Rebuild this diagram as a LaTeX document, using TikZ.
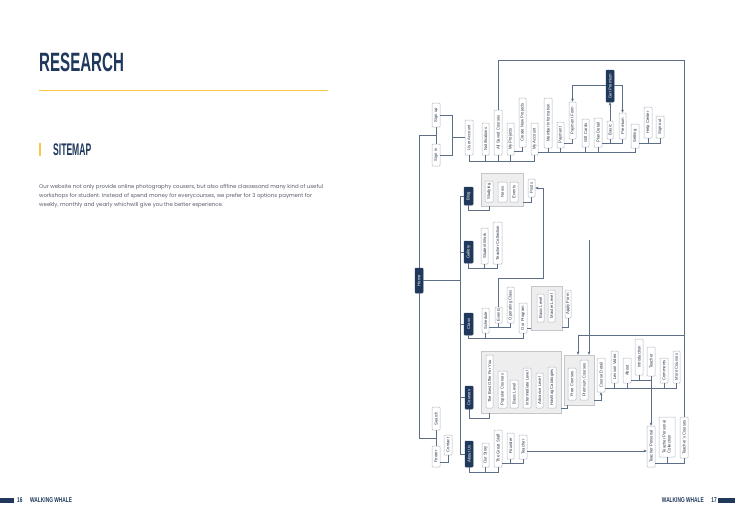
\documentclass[tikz,border=0pt]{standalone}
\usepackage{fontspec}
\setmainfont{Liberation Sans}
\newfontfamily\parafont{Poppins}
\usetikzlibrary{arrows.meta,calc}
\definecolor{navy}{RGB}{31,56,92}
\definecolor{gold}{RGB}{247,200,68}
\definecolor{lnc}{RGB}{93,110,135}
\definecolor{bxd}{RGB}{180,186,196}
\definecolor{grpf}{RGB}{238,238,238}
\definecolor{grpd}{RGB}{196,198,202}
\definecolor{txt}{RGB}{45,55,72}
\definecolor{para}{RGB}{90,95,108}
\tikzset{
  box/.style={draw=bxd,fill=white,line width=0.5pt,rounded corners=0.8pt,inner sep=0pt,text=txt,font=\fontsize{4.2}{5}\selectfont},
  dark/.style={draw=navy,fill=navy,line width=0.5pt,rounded corners=0.8pt,inner sep=0pt,text=white,font=\fontsize{4.2}{5}\selectfont},
  grp/.style={draw=grpd,fill=grpf,line width=0.5pt,inner sep=0pt},
  ln/.style={draw=lnc,line width=0.6pt},
  arr/.style={draw=lnc,line width=0.6pt,-{Stealth[length=3.2pt,width=2.8pt]}},
  ptext/.style={anchor=base west,inner sep=0,text=para,font=\parafont\fontsize{5.42}{6}\selectfont},
}
\newcommand\bx[7][box]{\node[#1,minimum width={#5-#3},minimum height={#6-#4}] (#2) at ({(#3+#5)/2},{(#4+#6)/2}) {\rotatebox{90}{#7}};}
\newcommand\gbx[5]{\node[grp,minimum width={#4-#2},minimum height={#5-#3}] (#1) at ({(#2+#4)/2},{(#3+#5)/2}) {};}
\begin{document}
\begin{tikzpicture}[x=1pt,y=-1pt]
\useasboundingbox (0,0) rectangle (735,520);
\fill[white] (0,0) rectangle (735,520);
% ---------- left page ----------
\node[anchor=base west,inner sep=0,text=navy] (title) at (39,71) {\fontsize{26.5}{26.5}\selectfont\bfseries\scalebox{0.57}[1]{RESEARCH}};
\draw[gold,line width=0.8pt] (39,90) -- (328,90);
\fill[gold] (38.5,143) rectangle (41,156);
\node[anchor=base west,inner sep=0,text=navy] (sitemap) at (53,155.5) {\fontsize{16.8}{16.8}\selectfont\bfseries\scalebox{0.51}[1]{SITEMAP}};
\node[ptext] (p1) at (39,188) {Our website not only provide online photography cousers, but also offline classesand many kind of useful};
\node[ptext] (p2) at (39,197) {workshops for student. Instead of spend money for everycourses, we prefer for 3 options payment for};
\node[ptext] (p3) at (39,206) {weekly, monthly and yearly whichwill give you the better experience.};
% footer
\fill[navy] (0,497.5) rectangle (14,502.5);
\node[anchor=base west,inner sep=0,text=navy] (pg16) at (17,502.5) {\fontsize{7}{7}\selectfont\bfseries\scalebox{0.69}[1]{16}};
\node[anchor=base west,inner sep=0,text=navy] (ww1) at (30,502.5) {\fontsize{7}{7}\selectfont\bfseries\scalebox{0.69}[1]{WALKING WHALE}};
\fill[navy] (718,497.5) rectangle (735,502.5);
\node[anchor=base east,inner sep=0,text=navy] (pg17) at (717,502.5) {\fontsize{7}{7}\selectfont\bfseries\scalebox{0.69}[1]{17}};
\node[anchor=base east,inner sep=0,text=navy] (ww2) at (704,502.5) {\fontsize{7}{7}\selectfont\bfseries\scalebox{0.69}[1]{WALKING WHALE}};
% ---------- groups ----------
\gbx{bloggrp}{481}{173}{523}{206}
\gbx{levelgrp}{531}{286}{562}{330}
\gbx{coursegrp}{481}{351}{561}{413}
\gbx{freegrp}{564}{355}{594}{405}
% ---------- boxes ----------
\bx[dark]{home}{415}{268}{423}{293}{Home}
\bx{signup}{432}{103}{440}{127}{Sign up}
\bx{signin}{432}{144}{440}{166}{Sign in}
\bx{ua}{465}{120}{473}{155}{User Account}
\bx{notif}{482}{123}{489}{155}{Notifications}
\bx{asc}{494}{110}{502}{155}{All Saved Courses}
\bx{myproj}{507}{123}{514}{155}{My Projects}
\bx{cnp}{519}{98}{526}{147}{Create New Projects}
\bx{macc}{531}{123}{538}{155}{My Account}
\bx{mi}{544}{98}{552}{148}{Member Information}
\bx{pay}{557}{122}{564}{148}{Payment}
\bx{pform}{569}{102}{576}{139}{Payment Form}
\bx{gift}{582}{119}{589}{147}{Gift Cards}
\bx{plan}{594}{118}{602}{147}{Plan Detail}
\bx{basic}{607}{121}{613}{139}{Basic}
\bx{premium}{619}{113}{626}{139}{Premium}
\bx[dark]{getprem}{606}{70}{614}{102}{Get Premium}
\bx{setting}{631}{124}{639}{148}{Setting}
\bx{help}{644}{107}{652}{138}{Help Center}
\bx{signout}{656}{116}{664}{138}{Sign out}
\bx[dark]{blog}{464}{187}{473}{205}{Blog}
\bx{studying}{485}{181}{493}{202}{Studying}
\bx{news}{498}{182}{507}{202}{News}
\bx{bevents}{510}{182}{518}{202}{Events}
\bx{posts}{528}{179}{535}{197}{Posts}
\bx[dark]{gallery}{464}{241}{473}{263}{Gallery}
\bx{swork}{481}{228}{488}{264}{Student Work}
\bx{tcoll}{493}{222}{502}{264}{Teacher Collection}
\bx[dark]{class}{464}{313}{473}{335}{Class}
\bx{schedule}{482}{308}{489}{333}{Schedule}
\bx{events}{495}{307}{502}{323}{Events}
\bx{opclass}{507}{287}{514}{323}{Operating Class}
\bx{ourprog}{519}{303}{527}{333}{Our Program}
\bx{blevel}{537}{294}{544}{322}{Basic Level}
\bx{mlevel}{548}{290}{555}{322}{Master Level}
\bx{apply}{565}{290}{571}{318}{Apply Form}
\bx[dark]{courses}{465}{386}{473}{409}{Courses}
\bx{bestoffer}{486}{355}{493}{408}{The Best Offer For You}
\bx{popular}{498}{371}{507}{408}{Popular Courses}
\bx{cbasic}{510}{380}{518}{408}{Basic Level}
\bx{inter}{523}{368}{531}{408}{Intermediate Level}
\bx{adv}{536}{373}{543}{408}{Advance Level}
\bx{hashtag}{548}{367}{556}{408}{Hashtag Catalogies}
\bx{free}{568}{368}{576}{400}{Free Courses}
\bx{prem}{580}{360}{588}{400}{Premium Courses}
\bx{cdetail}{597}{358}{605}{392}{Course Detail}
\bx{lesson}{611}{351}{618}{383}{Lesson Video}
\bx{about}{623}{358}{631}{383}{About}
\bx{intro}{635}{339}{643}{375}{Introduction}
\bx{teacher}{647}{347}{655}{376}{Teacher}
\bx{comments}{660}{358}{668}{383}{Comments}
\bx{more}{673}{351}{680}{383}{More Courses}
\bx{tpersonal}{647}{426}{655}{467}{Teacher Personal}
\bx{tpcoll}{659}{417}{675}{457}{\begin{tabular}{@{}l@{}}Teacher Personal\\Collection\end{tabular}}
\bx{tcourses}{680}{417}{688}{458}{Teacher's Courses}
\bx[dark]{aboutus}{465}{441}{473}{467}{About Us}
\bx{ourstory}{482}{443}{489}{467}{Our Story}
\bx{greatstaff}{494}{430}{502}{467}{The Great Staff}
\bx{founder}{507}{433}{514}{459}{Founder}
\bx{ateacher}{519}{435}{527}{459}{Teacher}
\bx{search}{432}{407}{440}{430}{Search}
\bx{footer}{432}{446}{440}{467}{Footer}
\bx{contact}{444}{435}{452}{455}{Contact}
% ---------- helper levels ----------
\coordinate (xT) at (460,0);
\coordinate (xB) at (452,0);
\coordinate (xP) at (543,0);
\coordinate (xS) at (567,0);
\coordinate (xa1) at (578,0);
\coordinate (xa2) at (589,0);
\coordinate (yA) at (0,161);
\coordinate (yB) at (0,151);
\coordinate (yC) at (0,152);
\coordinate (yD) at (0,143);
\coordinate (yE) at (0,85);
\coordinate (yF) at (0,60);
\coordinate (yH) at (0,335);
\coordinate (yI) at (0,210);
\coordinate (yJ) at (0,202);
\coordinate (yK) at (0,268);
\coordinate (yL) at (0,338);
\coordinate (yM) at (0,327);
\coordinate (yN) at (0,278);
\coordinate (yO) at (0,328);
\coordinate (yQ) at (0,418);
\coordinate (yR) at (0,408);
\coordinate (yS) at (0,400);
\coordinate (yU) at (0,388);
\coordinate (yV) at (0,380);
\coordinate (yW) at (0,463);
\coordinate (yX) at (0,472);
\coordinate (yY) at (0,463);
\coordinate (yZ) at (0,451);
\coordinate (yFC) at (0,462);
\coordinate (yTop) at (0,240);
% ---------- connectors ----------
\draw[ln] (home.north) |- ($(signup.south)!.5!(signin.north)$);
\draw[ln] (signup.south) -- (signin.north);
\draw[ln] (signup.east) -| (xB |- signin.east) -- (signin.east);
\draw[ln] (xB |- ua.west) -- (ua.west);
\draw[ln] (ua.south) |- (macc.south |- yA) -- (macc.south);
\foreach \n in {notif,asc,myproj} \draw[ln] (\n.south) -- (\n.south |- yA);
\draw[ln] (cnp.south) |- (myproj.east |- yB);
\draw[ln] (macc.east |- yC) -| (setting.south);
\foreach \n in {mi,pay,gift,plan} \draw[ln] (\n.south) -- (\n.south |- yC);
\draw[ln] (pay.east |- yD) -| (pform.south);
\draw[ln] (plan.east |- yD) -| (premium.south);
\draw[ln] (basic.south) -- (basic.south |- yD);
\draw[ln] (setting.east |- yD) -| (signout.south);
\draw[ln] (help.south) -- (help.south |- yD);
\draw[arr] (basic.north) -- (getprem.south);
\draw[arr] (getprem.west |- yE) -| (pform.north);
\draw[arr] (getprem.east |- yE) -| (premium.north);
\draw[ln] (asc.north) |- (tcourses.north |- yF) -- (tcourses.north);
\draw[arr] (tcourses.north |- yH) -| (xa1 |- freegrp.north);
\draw[arr] (xa2 |- yTop) -- (xa2 |- freegrp.north);
% home trunk
\draw[ln] (home.east) -- (xT |- home.east);
\draw[ln] (blog.west) -| (xT |- aboutus.west) -- (aboutus.west);
\foreach \n in {gallery,class,courses} \draw[ln] (\n.west) -- (xT |- \n.west);
% blog
\draw[ln] (blog.south) |- (studying.south |- yI) -- (studying.south |- bloggrp.south);
\draw[ln] (bloggrp.east |- yJ) -| (posts.south);
% gallery
\draw[ln] (gallery.south) |- (tcoll.south |- yK) -- (tcoll.south);
\draw[ln] (swork.south) -- (swork.south |- yK);
% class
\draw[ln] (class.south) |- (ourprog.south |- yL) -- (ourprog.south);
\draw[ln] (schedule.south) -- (schedule.south |- yL);
\draw[ln] (schedule.east |- yM) -| (opclass.south);
\draw[ln] (events.south) -- (events.south |- yM);
\draw[arr] (events.north) |- (xP |- yN) |- (posts.east);
\draw[ln] (ourprog.east |- yO) -- (levelgrp.west |- yO);
\draw[ln] (levelgrp.east |- yM) -| (apply.south);
% courses
\draw[ln] (courses.south) |- (bestoffer.south |- yQ) -- (bestoffer.south |- coursegrp.south);
\draw[ln] (coursegrp.east |- yR) -| (xS |- freegrp.south);
\draw[arr] (freegrp.east |- yS) -| (cdetail.south);
\draw[ln] (cdetail.east |- yU) -| (more.south);
\foreach \n in {lesson,about,comments} \draw[ln] (\n.south) -- (\n.south |- yU);
\draw[ln] (about.east |- yV) -| (teacher.south);
\draw[ln] (intro.south) -- (intro.south |- yV);
\draw[arr] (teacher.south) -- (teacher.south |- tpersonal.north);
\draw[ln] (tpersonal.east |- yW) -| (tcourses.south);
\draw[ln] (tpcoll.south) -- (tpcoll.south |- yW);
% about us
\draw[ln] (aboutus.south) |- (greatstaff.south |- yX) -- (greatstaff.south);
\draw[ln] (ourstory.south) -- (ourstory.south |- yX);
\draw[ln] (greatstaff.east |- yY) -| (ateacher.south);
\draw[ln] (founder.south) -- (founder.south |- yY);
\draw[arr] (ateacher.east |- yZ) -- (tpersonal.west |- yZ);
% search / footer
\draw[ln] (home.south) |- ($(search.south)!.5!(footer.north)$);
\draw[ln] (search.south) -- (footer.north);
\draw[ln] (footer.east |- yFC) -| (contact.south);
\end{tikzpicture}
\end{document}
